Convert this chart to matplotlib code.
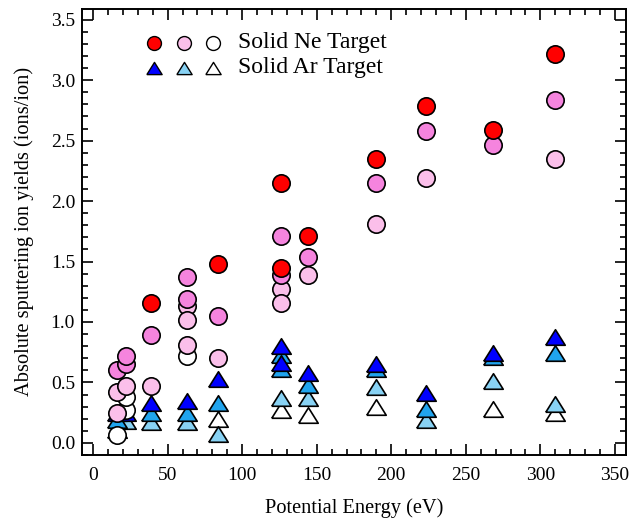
import matplotlib
matplotlib.use("Agg")
import matplotlib.pyplot as plt
from matplotlib.ticker import MultipleLocator

plt.rcParams['font.family'] = ['Liberation Serif', 'DejaVu Serif']

# Solid Ne target (four shades)
ne_red_x = [39, 84, 126, 126, 144, 190, 223, 268, 310]
ne_red_y = [1.16, 1.48, 2.15, 1.45, 1.71, 2.35, 2.79, 2.59, 3.22]
ne_mid_x = [16, 22, 22, 39, 63, 63, 84, 126, 126, 144, 190, 223, 268, 310]
ne_mid_y = [0.60, 0.65, 0.72, 0.89, 1.37, 1.19, 1.05, 1.71, 1.39, 1.54, 2.15, 2.58, 2.46, 2.84]
ne_light_x = [16, 16, 22, 39, 63, 63, 63, 84, 126, 126, 144, 190, 223, 310]
ne_light_y = [0.42, 0.25, 0.47, 0.47, 1.13, 1.02, 0.81, 0.70, 1.27, 1.16, 1.39, 1.81, 2.19, 2.35]
ne_white_x = [16, 22, 22, 63]
ne_white_y = [0.066, 0.27, 0.38, 0.72]

# Solid Ar target (four shades)
ar_blue_x = [16, 22, 39, 63, 84, 126, 126, 144, 190, 223, 268, 310]
ar_blue_y = [0.245, 0.245, 0.33, 0.35, 0.53, 0.80, 0.66, 0.58, 0.65, 0.41, 0.74, 0.875]
ar_mid_x = [16, 39, 63, 84, 126, 126, 144, 190, 223, 268, 310]
ar_mid_y = [0.19, 0.245, 0.25, 0.33, 0.73, 0.61, 0.48, 0.61, 0.28, 0.71, 0.74]
ar_light_x = [16, 22, 39, 63, 84, 126, 144, 190, 223, 268, 310]
ar_light_y = [0.11, 0.18, 0.17, 0.176, 0.075, 0.37, 0.37, 0.46, 0.19, 0.51, 0.32]
ar_white_x = [84, 126, 144, 190, 268, 310]
ar_white_y = [0.20, 0.27, 0.23, 0.30, 0.28, 0.25]

RED, MIDPINK, LIGHTPINK = '#ff0000', '#f584de', '#fbbfea'
BLUE, MIDBLUE, LIGHTBLUE = '#0000ff', '#20a4ee', '#88d2f4'
tri = [(-1, -0.8), (1, -0.8), (0, 0.8), (-1, -0.8)]

fig = plt.figure(figsize=(6.31, 5.2), dpi=100)
ax = fig.add_axes([0.130, 0.125, 0.862, 0.858])

ckw = dict(marker='o', ms=12.5, mec='black', mew=1.2, ls='none')
tkw = dict(marker=tri, ms=14, mec='black', mew=1.2, ls='none')

ax.plot(ar_white_x, ar_white_y, mfc='white', **tkw)
ax.plot(ar_light_x, ar_light_y, mfc=LIGHTBLUE, **tkw)
ax.plot(ar_mid_x, ar_mid_y, mfc=MIDBLUE, **tkw)
ax.plot(ar_blue_x, ar_blue_y, mfc=BLUE, **tkw)

ax.plot(ne_white_x, ne_white_y, mfc='white', **ckw)
ax.plot(ne_light_x, ne_light_y, mfc=LIGHTPINK, **ckw)
ax.plot(ne_mid_x, ne_mid_y, mfc=MIDPINK, **ckw)
ax.plot(ne_red_x, ne_red_y, mfc=RED, **ckw)

# hand-made legend
lx = [0.1324, 0.1875, 0.2408]
for x, c in zip(lx, [RED, LIGHTPINK, 'white']):
    ax.plot(x, 0.9238, marker='o', ms=10, mfc=c, mec='black', mew=1.0,
            transform=ax.transAxes, clip_on=False)
for x, c in zip(lx, [BLUE, LIGHTBLUE, 'white']):
    ax.plot(x, 0.8677, marker=tri, ms=11, mfc=c, mec='black', mew=1.0,
            transform=ax.transAxes, clip_on=False)
ax.text(0.2868, 0.9238, 'Solid Ne Target', transform=ax.transAxes,
        fontsize=17, va='center', ha='left')
ax.text(0.2868, 0.8677, 'Solid Ar Target', transform=ax.transAxes,
        fontsize=17, va='center', ha='left')

ax.set_xlim(-7.4, 357.4)
ax.set_ylim(-0.1, 3.59)
ax.xaxis.set_major_locator(MultipleLocator(50))
ax.xaxis.set_minor_locator(MultipleLocator(10))
ax.yaxis.set_major_locator(MultipleLocator(0.5))
ax.yaxis.set_minor_locator(MultipleLocator(0.1))
ax.yaxis.set_major_formatter(plt.FormatStrFormatter('%.1f'))
ax.tick_params(which='both', direction='in', top=True, right=True,
               labelsize=14, width=1.2)
ax.tick_params(which='major', length=8)
ax.tick_params(which='minor', length=4.5)
ax.tick_params(axis='x', which='major', pad=9)
ax.tick_params(axis='y', which='major', pad=5)
for s in ax.spines.values():
    s.set_linewidth(1.4)

ax.set_xlabel('Potential Energy (eV)', fontsize=14.7, labelpad=10)
ax.set_ylabel('Absolute sputtering ion yields (ions/ion)', fontsize=14.7, labelpad=12)

fig.savefig('out.png', dpi=100)
